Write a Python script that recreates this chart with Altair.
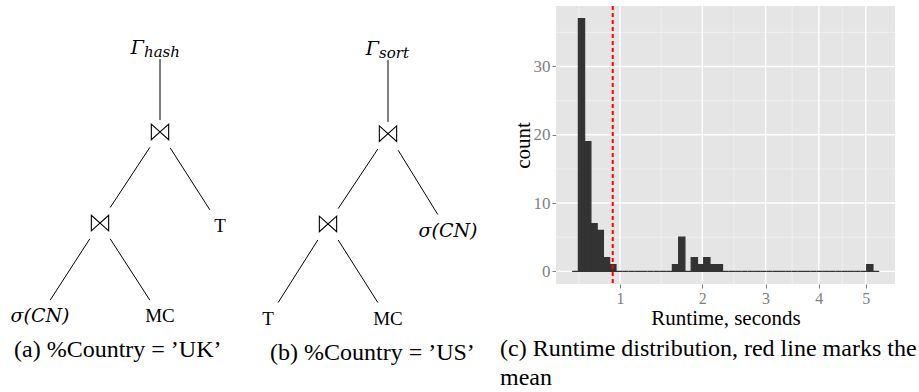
import altair as alt
import numpy as np
import pandas as pd

# ---------------- data: query plan trees ----------------
tree_a_labels = ["Γ", "⋈", "⋈", "T", "σ(CN)", "MC"]
tree_a_kinds = ["gamma", "join", "join", "rel", "sel", "rel"]
tree_a_slot = [2, 2, 1, 3, 0, 2]
tree_a_depth = [0.0, 0.94, 1.96, 1.99, 3.0, 3.0]
tree_a_parent = [-1, 0, 1, 1, 2, 2]
tree_a_sub = "hash"
tree_a_caption = "(a) %Country = ’UK’"

tree_b_labels = ["Γ", "⋈", "⋈", "σ(CN)", "T", "MC"]
tree_b_kinds = ["gamma", "join", "join", "sel", "rel", "rel"]
tree_b_slot = [2, 2, 1, 3, 0, 2]
tree_b_depth = [0.01, 0.96, 1.97, 2.05, 3.03, 3.03]
tree_b_parent = [-1, 0, 1, 1, 2, 2]
tree_b_sub = "sort"
tree_b_caption = "(b) %Country = ’US’"

# ---------------- data: runtime histogram ----------------
# bins are equal-width in sqrt(seconds)
bin_sqrt_start = 0.759
bin_sqrt_width = 0.03153
bin_counts = [0, 37, 19, 7, 6, 2, 1, 0, 0, 0,
              0, 0, 0, 0, 0, 0, 1, 5, 0, 2,
              1, 2, 1, 1, 0, 0, 0, 0, 0, 0,
              0, 0, 0, 0, 0, 0, 0, 0, 0, 0,
              0, 0, 0, 0, 0, 0, 0, 1, 0]
mean_runtime = 0.928
x_major = [1, 2, 3, 4, 5]
x_minor = [0.629, 1.457, 2.474, 3.482, 4.486]
y_major = [0, 10, 20, 30]
y_minor = [5, 15, 25, 35]
x_domain = [0.4597, 5.68]
y_domain = [-1.85, 38.85]
hist_caption = ["(c) Runtime distribution, red line marks the", "mean"]

FONT = "Liberation Serif"
MATH = "DejaVu Serif"
BOWTIE = "M -1 -0.9 L -1 0.9 L 1 -0.9 L 1 0.9 Z"

# tree layout (pixels per unit)
PPS, LPX = 60.0, 40.0
DPX, TPX = 89.3, 42.0
TREE_H = 320


def tree(labels, kinds, slots, depths, parents, sub, width, gamma_dx, caption, cap_dx):
    nodes = pd.DataFrame(dict(label=labels, kind=kinds, slot=slots, depth=depths))
    nodes["sub"] = sub
    rows = []
    for i, p in enumerate(parents):
        if p < 0:
            continue
        f0, f1 = (0.13, 0.86) if kinds[p] == "gamma" else (0.17, 0.83)
        sx, sy, cx, cy = slots[p], depths[p], slots[i], depths[i]
        rows.append(dict(x=sx + f0 * (cx - sx), y=sy + f0 * (cy - sy),
                         x2=sx + f1 * (cx - sx), y2=sy + f1 * (cy - sy)))
    edges = pd.DataFrame(rows)
    xs = alt.Scale(domain=[-LPX / PPS, (width - LPX) / PPS], nice=False, zero=False)
    ys = alt.Scale(domain=[-TPX / DPX, (TREE_H - TPX) / DPX], nice=False, zero=False, reverse=True)

    def enc(fx, fy):
        return dict(x=alt.X(fx, type="quantitative", scale=xs, axis=None),
                    y=alt.Y(fy, type="quantitative", scale=ys, axis=None))

    e = alt.Chart(edges).mark_rule(color="black", strokeWidth=1).encode(
        x2="x2:Q", y2="y2:Q", **enc("x", "y"))
    base = alt.Chart(nodes)
    rel = base.transform_filter(alt.datum.kind == "rel").mark_text(
        font=FONT, fontSize=19, baseline="middle", color="black").encode(
        text="label:N", **enc("slot", "depth"))
    sel = base.transform_filter(alt.datum.kind == "sel").mark_text(
        font=MATH, fontStyle="italic", fontSize=19, baseline="middle", color="black").encode(
        text="label:N", **enc("slot", "depth"))
    join = base.transform_filter(alt.datum.kind == "join").mark_point(
        shape=BOWTIE, size=300, filled=False, stroke="black", strokeWidth=1.1, opacity=1).encode(
        **enc("slot", "depth"))
    gam = base.transform_filter(alt.datum.kind == "gamma").mark_text(
        font=MATH, fontStyle="italic", fontSize=19, align="right", baseline="alphabetic",
        dx=gamma_dx, dy=6, color="black").encode(text="label:N", **enc("slot", "depth"))
    gsub = base.transform_filter(alt.datum.kind == "gamma").mark_text(
        font=MATH, fontStyle="italic", fontSize=15, align="left", baseline="alphabetic",
        dx=gamma_dx, dy=9, color="black").encode(text="sub:N", **enc("slot", "depth"))
    return alt.layer(e, rel, sel, join, gam, gsub).properties(
        width=width, height=TREE_H,
        title=alt.TitleParams(text=caption, orient="bottom", anchor="start", frame="group",
                              dx=cap_dx, offset=12, font=FONT, fontSize=24,
                              fontWeight="normal", color="black", baseline="top"))


tree_a = tree(tree_a_labels, tree_a_kinds, tree_a_slot, tree_a_depth, tree_a_parent,
              tree_a_sub, 228, -16, tree_a_caption, 14)
tree_b = tree(tree_b_labels, tree_b_kinds, tree_b_slot, tree_b_depth, tree_b_parent,
              tree_b_sub, 328, -9, tree_b_caption, 42)

# ---------------- histogram ----------------
k = np.arange(len(bin_counts))
bars = pd.DataFrame(dict(
    lo=(bin_sqrt_start + k * bin_sqrt_width) ** 2,
    hi=(bin_sqrt_start + (k + 1) * bin_sqrt_width) ** 2,
    count=bin_counts,
    base=0,
))

xs = alt.Scale(type="sqrt", domain=x_domain, nice=False, zero=False)
ys = alt.Scale(domain=y_domain, nice=False, zero=False)
xaxis = alt.Axis(values=x_major, format="d", title="Runtime, seconds", grid=False, domain=False,
                 tickColor="#7F7F7F", tickSize=4, tickWidth=1, labelColor="#7F7F7F",
                 labelFont=FONT, labelFontSize=16, labelPadding=2, titleFont=FONT,
                 titleFontSize=21, titleFontWeight="normal", titleColor="black", titlePadding=1)
yaxis = alt.Axis(values=y_major, format="d", title="count", grid=False, domain=False,
                 tickColor="#7F7F7F", tickSize=4, tickWidth=1, labelColor="#7F7F7F",
                 labelFont=FONT, labelFontSize=17, labelPadding=2, titleFont=FONT,
                 titleFontSize=21, titleFontWeight="normal", titleColor="black", titlePadding=0)


def X(f):
    return alt.X(f, type="quantitative", scale=xs, axis=xaxis)


def Y(f):
    return alt.Y(f, type="quantitative", scale=ys, axis=yaxis)


xminor = alt.Chart(pd.DataFrame(dict(v=x_minor))).mark_rule(color="#F2F2F2", strokeWidth=0.8).encode(x=X("v"))
yminor = alt.Chart(pd.DataFrame(dict(v=y_minor))).mark_rule(color="#F2F2F2", strokeWidth=0.8).encode(y=Y("v"))
xmajor = alt.Chart(pd.DataFrame(dict(v=x_major))).mark_rule(color="white", strokeWidth=1.4).encode(x=X("v"))
ymajor = alt.Chart(pd.DataFrame(dict(v=y_major))).mark_rule(color="white", strokeWidth=1.4).encode(y=Y("v"))
hist = alt.Chart(bars).mark_rect(fill="#333333", stroke="#333333", strokeWidth=1.2).encode(
    x=X("lo"), x2="hi:Q", y=Y("count"), y2="base:Q")
meanline = alt.Chart(pd.DataFrame(dict(m=[mean_runtime]))).mark_rule(
    color="red", strokeDash=[4, 3], strokeWidth=2).encode(x=X("m"))

hist_chart = alt.layer(xminor, yminor, xmajor, ymajor, hist, meanline).properties(
    width=339, height=278,
    view=alt.ViewBackground(fill="#E5E5E5"),
    title=alt.TitleParams(text=hist_caption, orient="bottom", anchor="start", frame="group",
                          dx=-56, offset=9, font=FONT, fontSize=24, fontWeight="normal",
                          color="black", baseline="top", lineHeight=29))

chart = alt.hconcat(tree_a, tree_b, hist_chart, spacing=0, bounds="flush").properties(
    padding={"left": 0, "top": 5, "right": 0, "bottom": 0},
    background="white",
).configure_view(stroke=None)

chart.save("out.html", embed_options={"renderer": "svg", "actions": False})
